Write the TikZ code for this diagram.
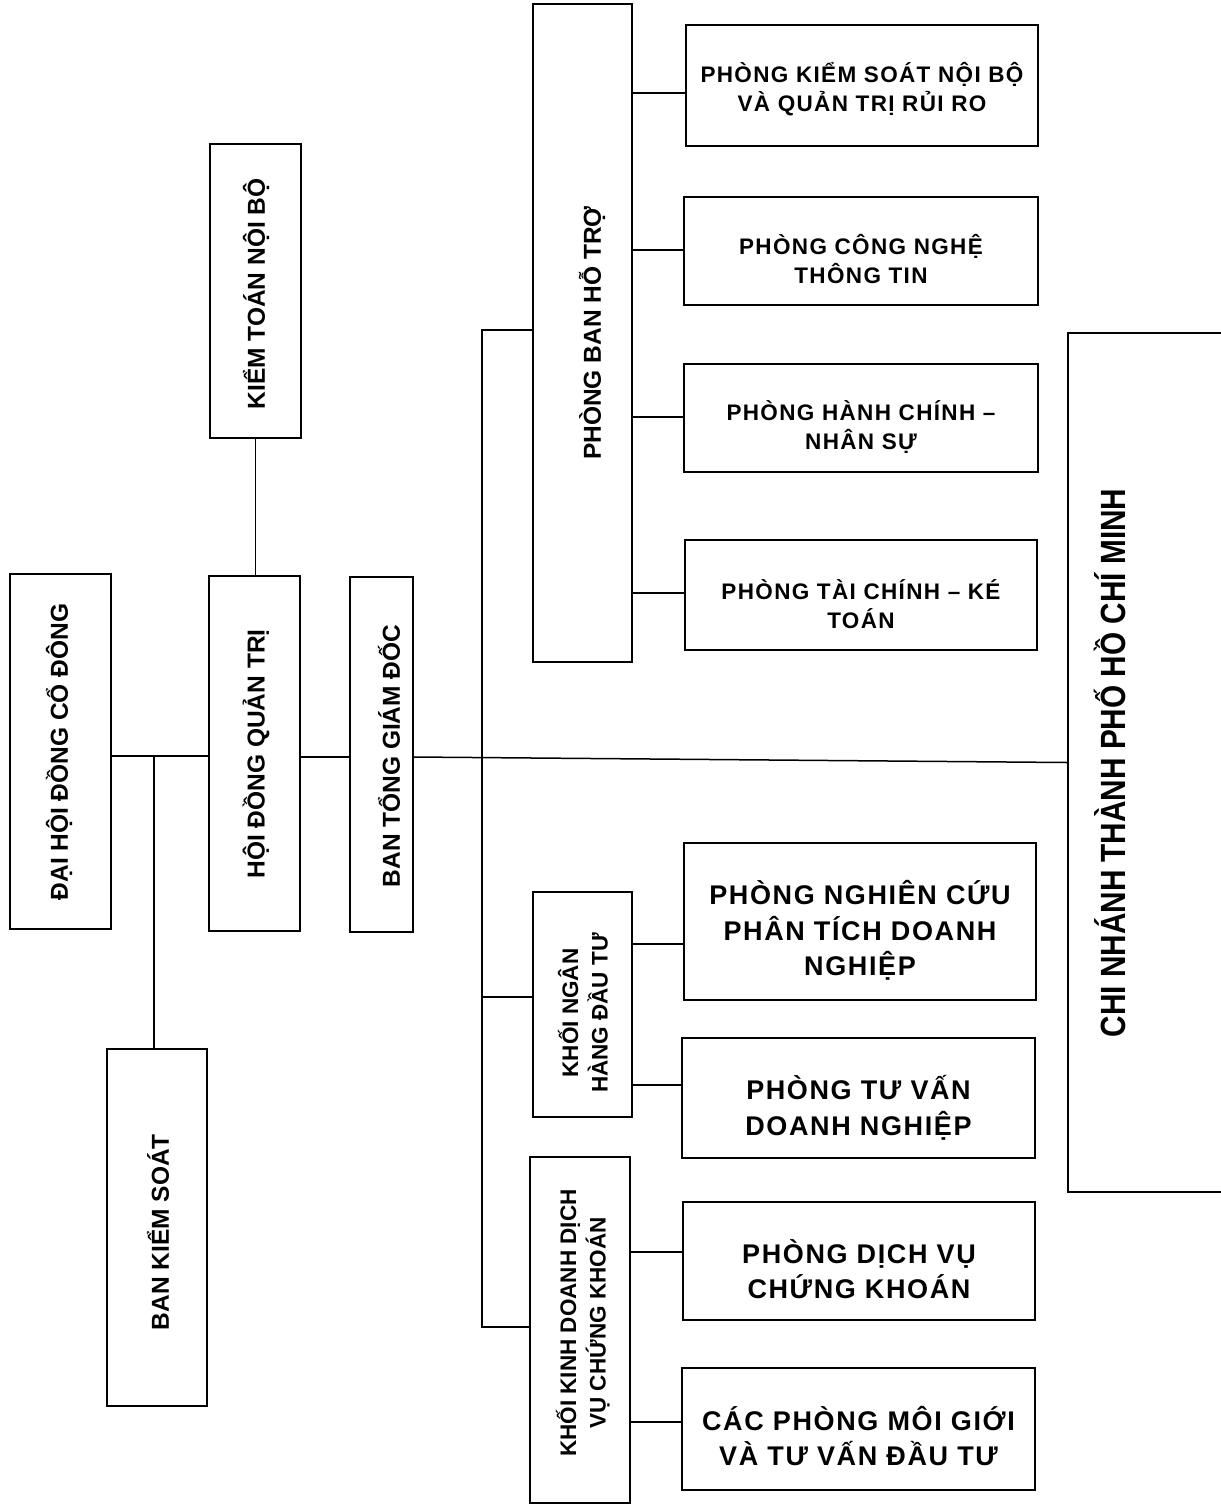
\documentclass[tikz,border=0pt]{standalone}
\usepackage{graphicx}
\usepackage{fontspec}
\setmainfont{Liberation Sans}
\tikzset{
  box/.style={draw, line width=1.5pt, inner sep=0pt},
  lbl/.style={inner sep=0pt, align=center},
  hsmall/.style={lbl, font=\bfseries\fontsize{22.5}{28.5}\selectfont\addfontfeature{LetterSpace=6}},
  hbig/.style={lbl, font=\bfseries\fontsize{27}{35.5}\selectfont\addfontfeature{LetterSpace=6}},
  vtext/.style={lbl, font=\bfseries\fontsize{24.5}{29}\selectfont},
  vstext/.style={lbl, font=\bfseries\fontsize{22.5}{29.5}\selectfont},
  link/.style={line width=1.5pt},
}
\begin{document}
\begin{tikzpicture}[x=1pt,y=-1pt]
\useasboundingbox (0,0) rectangle (1221,1508);
\clip (0,0) rectangle (1221,1508);
\fill[white] (0,0) rectangle (1221,1508);

% left column
\node[box, minimum width=101pt, minimum height=355pt] (dhd) at (60.5,751.5) {};
\node[vtext] (dhdt) at (59,752) {\rotatebox{90}{ĐẠI HỘI ĐỒNG CỔ ĐÔNG}};
\node[box, minimum width=91pt, minimum height=355pt] (hdqt) at (254.5,753.5) {};
\node[vtext] (hdqtt) at (256,754) {\rotatebox{90}{HỘI ĐỒNG QUẢN TRỊ}};
\node[box, minimum width=63pt, minimum height=355pt] (btgd) at (381.5,754.5) {};
\node[vtext] (btgdt) at (389,756) {\rotatebox{90}{BAN TỔNG GIÁM ĐỐC}};
\node[box, minimum width=91pt, minimum height=294pt] (ktnb) at (255.5,291) {};
\node[vtext] (ktnbt) at (256,294) {\rotatebox{90}{KIỂM TOÁN NỘI BỘ}};
\node[box, minimum width=100pt, minimum height=357pt] (bks) at (157,1227.5) {};
\node[vtext] (bkst) at (158,1232) {\rotatebox{90}{BAN KIỂM SOÁT}};

% middle column
\node[box, minimum width=99pt, minimum height=658pt] (pbht) at (582.5,333) {};
\node[vtext] (pbhtt) at (592,333) {\rotatebox{90}{PHÒNG BAN HỖ TRỢ}};
\node[box, minimum width=99pt, minimum height=225pt] (knh) at (582.5,1004.5) {};
\node[vstext] (knht) at (587,1013) {\rotatebox{90}{\begin{tabular}{@{}c@{}}KHỐI NGÂN\\HÀNG ĐẦU TƯ\end{tabular}}};
\node[box, minimum width=100pt, minimum height=346pt] (kkd) at (580,1330) {};
\node[vstext] (kkdt) at (585,1323) {\rotatebox{90}{\begin{tabular}{@{}c@{}}KHỐI KINH DOANH DỊCH\\VỤ CHỨNG KHOÁN\end{tabular}}};

% right column
\node[box, minimum width=352pt, minimum height=121pt] (pks) at (862,85.5) {};
\node[hsmall] (pkst) at (862,89) {PHÒNG KIỂM SOÁT NỘI BỘ\\VÀ QUẢN TRỊ RỦI RO};
\node[box, minimum width=354pt, minimum height=108pt] (pcn) at (861,251) {};
\node[hsmall] (pcnt) at (861,259) {PHÒNG CÔNG NGHỆ\\THÔNG TIN};
\node[box, minimum width=354pt, minimum height=108pt] (phc) at (861,418) {};
\node[hsmall] (phct) at (861,427) {PHÒNG HÀNH CHÍNH –\\NHÂN SỰ};
\node[box, minimum width=352pt, minimum height=110pt] (ptc) at (861,595) {};
\node[hsmall] (ptct) at (861,604) {PHÒNG TÀI CHÍNH – KÉ\\TOÁN};
\node[box, minimum width=352pt, minimum height=157pt] (pnc) at (860,921.5) {};
\node[hbig] (pnct) at (860,930.5) {PHÒNG NGHIÊN CỨU\\PHÂN TÍCH DOANH\\NGHIỆP};
\node[box, minimum width=353pt, minimum height=120pt] (ptv) at (858.5,1098) {};
\node[hbig] (ptvt) at (858.5,1108) {PHÒNG TƯ VẤN\\DOANH NGHIỆP};
\node[box, minimum width=352pt, minimum height=118pt] (pdv) at (859,1261) {};
\node[hbig] (pdvt) at (859,1269) {PHÒNG DỊCH VỤ\\CHỨNG KHOÁN};
\node[box, minimum width=353pt, minimum height=122pt] (cpm) at (858.5,1429) {};
\node[hbig] (cpmt) at (858.5,1436) {CÁC PHÒNG MÔI GIỚI\\VÀ TƯ VẤN ĐẦU TƯ};

% branch box (cut by the page edge)
\node[box, minimum width=182pt, minimum height=859pt] (cn) at (1159,762.5) {};
\node[lbl, font=\bfseries\fontsize{35}{40}\selectfont] (cnt) at (1110,763) {\rotatebox{90}{\scalebox{0.85}[1]{CHI NHÁNH THÀNH PHỐ HỒ CHÍ MINH}}};

% connectors, left part
\coordinate (j1) at (154,756);
\coordinate (j2) at (325,757);
\draw[link] (dhd.east |- j1) -- (hdqt.west |- j1);
\draw[link] (j1) -- (j1 |- bks.north);
\draw[link] (ktnb.south) -- (ktnb.south |- hdqt.north);
\draw[link] (hdqt.east |- j2) -- (btgd.west |- j2);
\draw[link] ([yshift=-2.5pt]btgd.east) -- (cn.west);

% trunk
\coordinate (t1) at (482,330);
\coordinate (t2) at (482,997);
\coordinate (t3) at (482,1327);
\draw[link] (pbht.west |- t1) -- (t1) -- (t3) -- (kkd.west |- t3);
\draw[link] (t2) -- (knh.west |- t2);

% children
\coordinate (y1) at (0,93);
\coordinate (y2) at (0,250);
\coordinate (y3) at (0,417);
\coordinate (y4) at (0,593);
\coordinate (y5) at (0,944);
\coordinate (y6) at (0,1085);
\coordinate (y7) at (0,1252);
\coordinate (y8) at (0,1422);
\draw[link] (pbht.east |- y1) -- (pks.west |- y1);
\draw[link] (pbht.east |- y2) -- (pcn.west |- y2);
\draw[link] (pbht.east |- y3) -- (phc.west |- y3);
\draw[link] (pbht.east |- y4) -- (ptc.west |- y4);
\draw[link] (knh.east |- y5) -- (pnc.west |- y5);
\draw[link] (knh.east |- y6) -- (ptv.west |- y6);
\draw[link] (kkd.east |- y7) -- (pdv.west |- y7);
\draw[link] (kkd.east |- y8) -- (cpm.west |- y8);
\end{tikzpicture}
\end{document}
